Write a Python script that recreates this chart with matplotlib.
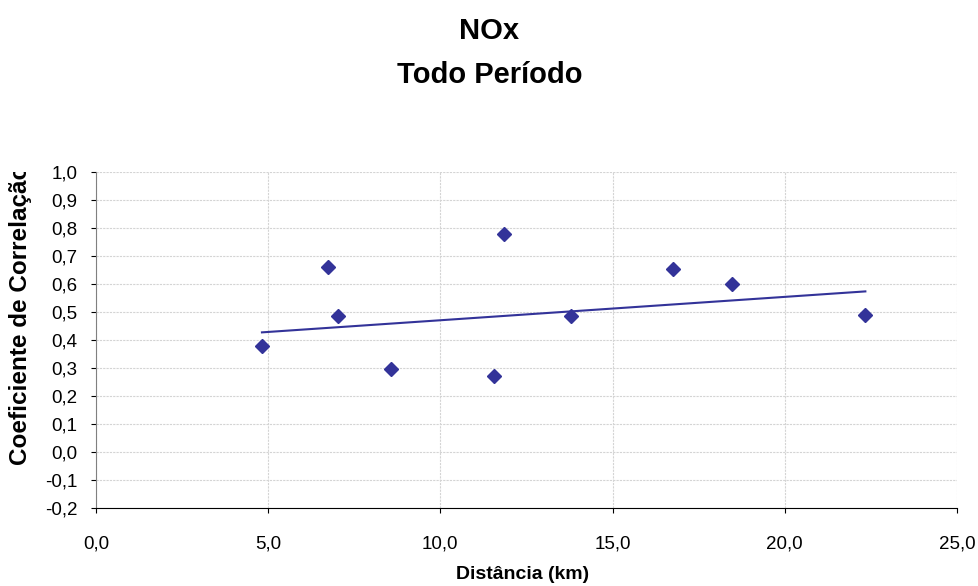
import numpy as np
import matplotlib.pyplot as plt
from matplotlib.transforms import Bbox, TransformedBbox

plt.rcParams['font.family'] = ['Liberation Sans', 'DejaVu Sans']

dist_km = [4.82, 6.74, 7.03, 8.58, 11.55, 11.84, 13.80, 16.76, 18.47, 22.34]
corr = [0.38, 0.66, 0.485, 0.295, 0.27, 0.78, 0.485, 0.655, 0.60, 0.49]

# linear trend as shown on the chart
trend_slope = 0.00835
trend_intercept = 0.387

x_ticks = [0, 5, 10, 15, 20, 25]
y_ticks = [round(-0.2 + 0.1 * i, 1) for i in range(13)]

def br(v):
    return f"{v:.1f}".replace('.', ',')

fig = plt.figure(figsize=(9.79, 5.86), dpi=100)
ax = fig.add_axes([0.098, 0.1331, 0.8795, 0.5734])

color = '#333399'
ax.plot(dist_km, corr, 'D', color=color, markersize=7.5, zorder=3)

xs = np.array([min(dist_km), max(dist_km)])
ax.plot(xs, trend_slope * xs + trend_intercept, color=color, lw=1.5, zorder=2)

ax.set_xlim(0, 25)
ax.set_ylim(-0.2, 1.0)
ax.set_xticks(x_ticks)
ax.set_xticklabels([br(v) for v in x_ticks])
ax.set_yticks(y_ticks)
ax.set_yticklabels([br(v) for v in y_ticks])
ax.tick_params(labelsize=13.5, direction='out', length=3.6, pad=9.5)
ax.tick_params(axis='x', pad=16)

ax.grid(True, color='#d4d4d4', linestyle=(0, (2, 1)), lw=0.8)
ax.set_axisbelow(True)
for s in ['top', 'right']:
    ax.spines[s].set_visible(False)
ax.spines['left'].set_color('#808080')
ax.spines['bottom'].set_color('black')

ax.set_xlabel('Distância (km)', fontsize=14, fontweight='bold')
ax.xaxis.set_label_coords(0.4955, (508 - 574) / 336)
ax.xaxis.label.set_va('center')

# y label is cut off at the top, as in the original
ylab = fig.text(0.021, 1 - 465 / 586, 'Coeficiente de Correlação', rotation=90,
                fontsize=17.5, fontweight='bold', ha='center', va='bottom')
ylab.set_clip_box(TransformedBbox(Bbox([[0, 0], [0.1, 1 - 172 / 586]]), fig.transFigure))
ylab.set_clip_on(True)

fig.text(0.5, 1 - 31 / 586, 'NOx', fontsize=21, fontweight='bold', ha='center', va='center')
fig.text(0.5, 1 - 75 / 586, 'Todo Período', fontsize=21, fontweight='bold', ha='center', va='center')

fig.savefig('out.png', dpi=100)
